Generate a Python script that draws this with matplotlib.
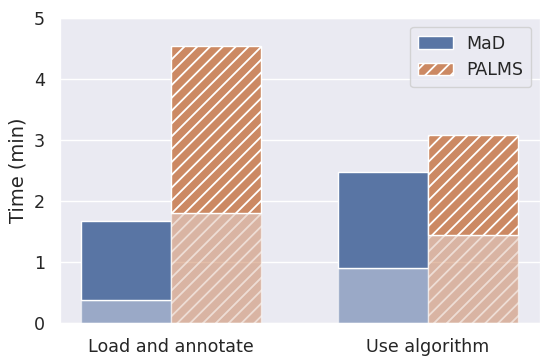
import matplotlib
matplotlib.use('Agg')
import matplotlib.pyplot as plt
import seaborn as sns
import numpy as np

sns.set_theme(style='darkgrid')

categories = ['Load and annotate', 'Use algorithm']
mad_lower = [0.38, 0.90]
mad_total = [1.67, 2.48]
palms_lower = [1.81, 1.45]
palms_total = [4.54, 3.09]

# lower dpi so the hatch spacing matches; sizes scaled up to compensate
DPI = 77
s = 100 / DPI

# seaborn barplot-style desaturated colours
blue = sns.desaturate(sns.color_palette('deep')[0], 0.75)
orange = sns.desaturate(sns.color_palette('deep')[1], 0.75)
plt.rcParams['hatch.color'] = 'white'
plt.rcParams['hatch.linewidth'] = 1.3 * s
plt.rcParams['grid.linewidth'] = 1.0 * s

x = np.arange(len(categories))
w = 0.35
mad_upper = np.array(mad_total) - np.array(mad_lower)
palms_upper = np.array(palms_total) - np.array(palms_lower)

fig, ax = plt.subplots(figsize=(550 / DPI, 363 / DPI), dpi=DPI)
ax.bar(x - w / 2, mad_lower, w, color=blue, alpha=0.55, edgecolor='white', linewidth=s)
ax.bar(x - w / 2, mad_upper, w, bottom=mad_lower, color=blue, edgecolor='white',
       linewidth=s, label='MaD')
ax.bar(x + w / 2, palms_lower, w, color=orange, alpha=0.55, edgecolor='white',
       linewidth=s, hatch='//')
ax.bar(x + w / 2, palms_upper, w, bottom=palms_lower, color=orange, edgecolor='white',
       linewidth=s, hatch='//', label='PALMS')

ax.set_xticks(x)
ax.set_xticklabels(categories, fontsize=12.6 * s)
ax.tick_params(axis='y', labelsize=12.6 * s)
ax.tick_params(axis='both', pad=6 * s)
ax.set_ylabel('Time (min)', fontsize=14 * s, labelpad=5 * s)
ax.set_ylim(0, 5)
ax.set_xlim(-0.432, 1.436)
ax.xaxis.grid(False)
leg = ax.legend(loc='upper right', fontsize=12.5 * s, borderpad=0.45)
leg.get_frame().set_linewidth(s)

plt.subplots_adjust(left=0.109, right=0.982, top=0.95, bottom=0.11)
plt.savefig('out.png', dpi=DPI)
